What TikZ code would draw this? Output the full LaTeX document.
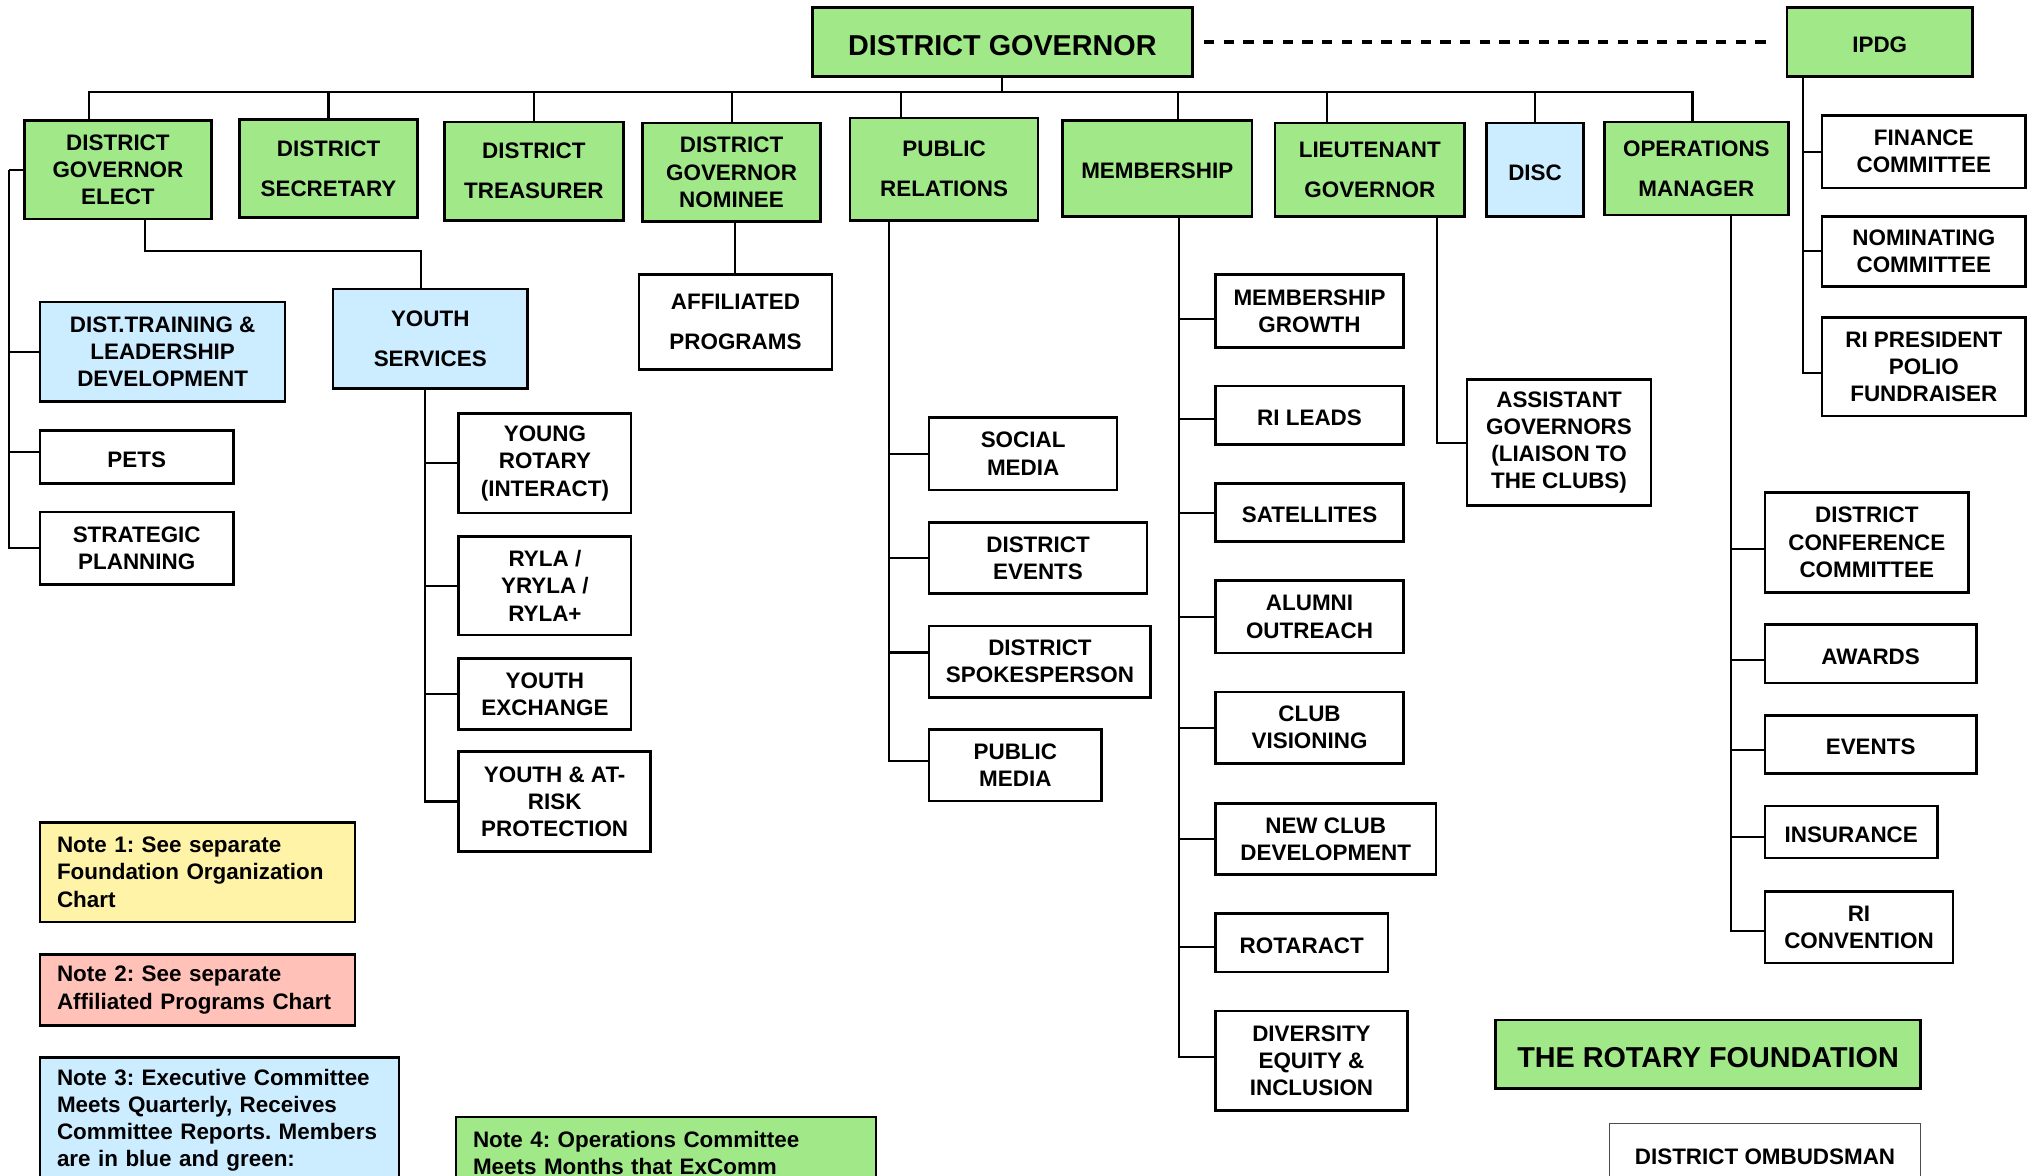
\documentclass[tikz,border=0pt]{standalone}
\usepackage{fontspec}
\setmainfont{Liberation Sans}
\usepackage{tikz}
\frenchspacing

\definecolor{orggreen}{RGB}{160,232,136}
\definecolor{orgblue}{RGB}{204,236,255}
\definecolor{noteyellow}{RGB}{255,243,168}
\definecolor{notepink}{RGB}{255,193,184}

\newcommand{\orgfont}{\fontsize{17.3}{21}\selectfont\bfseries}
\newcommand{\headfont}{\fontsize{22.2}{26}\selectfont\bfseries}

\begin{document}
\begin{tikzpicture}[x=1pt, y=-1pt,
  orgbox/.style={shape=rectangle, draw=black, line width=2pt, fill=white, inner sep=0pt, align=center, font=\orgfont, execute at begin node={\rule{0pt}{16pt}}},
  greenbox/.style={orgbox, fill=orggreen},
  bluebox/.style={orgbox, fill=orgblue},
  headbox/.style={greenbox, font=\headfont, execute at begin node={\rule{0pt}{21pt}}},
  notebox/.style={shape=rectangle, draw=black, line width=2pt, inner sep=0pt, align=left, inner xsep=13pt, font=\orgfont},
  sz/.style 2 args={minimum width=#1pt, minimum height=#2pt},
  link/.style={draw=black, line width=1.6pt},
  dotlink/.style={draw=black, line width=3pt, dash pattern=on 8pt off 7.2pt}]
\useasboundingbox (0,0) rectangle (1568,907);

% top row
\node[headbox, sz={293}{53}](dg) at (773.5,32.5) {DISTRICT GOVERNOR};
\node[greenbox, sz={143}{53}](ipdg) at (1450.5,32.5) {IPDG};
\node[greenbox, sz={144}{76}](dge) at (91,131) {DISTRICT\\GOVERNOR\\ELECT};
\node[greenbox, sz={137}{76}](ds) at (253.5,130) {DISTRICT\\[10pt]SECRETARY};
\node[greenbox, sz={138}{76}](dt) at (412,132) {DISTRICT\\[10pt]TREASURER};
\node[greenbox, sz={137}{76}](dgn) at (564.5,133) {DISTRICT\\GOVERNOR\\NOMINEE};
\node[greenbox, sz={145}{79}](pr) at (728.5,130.5) {PUBLIC\\[10pt]RELATIONS};
\node[greenbox, sz={146}{74}](mem) at (893,130) {MEMBERSHIP};
\node[greenbox, sz={146}{72}](lg) at (1057,131) {LIEUTENANT\\[10pt]GOVERNOR};
\node[bluebox, sz={75}{72}](disc) at (1184.5,131) {DISC};
\node[greenbox, sz={142}{72}](om) at (1309,130) {OPERATIONS\\[10pt]MANAGER};

% ipdg
\node[orgbox, sz={157}{56}](fin) at (1484.5,117) {FINANCE\\COMMITTEE};
\node[orgbox, sz={157}{54}](nom) at (1484.5,194) {NOMINATING\\COMMITTEE};
\node[orgbox, sz={157}{76}](rip) at (1484.5,283) {RI PRESIDENT\\POLIO\\FUNDRAISER};

% governor elect
\node[bluebox, sz={189}{77}](train) at (125.5,271.5) {DIST.TRAINING \&\\LEADERSHIP\\DEVELOPMENT};
\node[orgbox, sz={149}{41}](pets) at (105.5,352.5) {PETS};
\node[orgbox, sz={149}{56}](strat) at (105.5,423) {STRATEGIC\\PLANNING};
\node[bluebox, sz={150}{77}](ys) at (332,261.5) {YOUTH\\[10pt]SERVICES};
\node[orgbox, sz={133}{77}](yr) at (420.5,357.5) {YOUNG\\ROTARY\\(INTERACT)};
\node[orgbox, sz={133}{76}](ryla) at (420.5,452) {RYLA /\\YRYLA /\\RYLA+};
\node[orgbox, sz={133}{55}](yex) at (420.5,535.5) {YOUTH\\EXCHANGE};
\node[orgbox, sz={148}{77}](yar) at (428,618.5) {YOUTH \& AT-\\RISK\\PROTECTION};

\node[orgbox, sz={149}{73}](ap) at (567.5,248.5) {AFFILIATED\\[10pt]PROGRAMS};

% public relations
\node[orgbox, sz={145}{56}](sm) at (789.5,350) {SOCIAL\\MEDIA};
\node[orgbox, sz={168}{55}](de) at (801,430.5) {DISTRICT\\EVENTS};
\node[orgbox, sz={171}{55}](dsp) at (802.5,510.5) {DISTRICT\\SPOKESPERSON};
\node[orgbox, sz={133}{55}](pm) at (783.5,590.5) {PUBLIC\\MEDIA};

% membership
\node[orgbox, sz={145}{56}](mg) at (1010.5,240) {MEMBERSHIP\\GROWTH};
\node[orgbox, sz={145}{45}](ril) at (1010.5,320.5) {RI LEADS};
\node[orgbox, sz={145}{45}](sat) at (1010.5,395.5) {SATELLITES};
\node[orgbox, sz={145}{56}](alu) at (1010.5,476) {ALUMNI\\OUTREACH};
\node[orgbox, sz={145}{55}](cv) at (1010.5,561.5) {CLUB\\VISIONING};
\node[orgbox, sz={170}{55}](ncd) at (1023,647.5) {NEW CLUB\\DEVELOPMENT};
\node[orgbox, sz={133}{45}](rot) at (1004.5,727.5) {ROTARACT};
\node[orgbox, sz={148}{77}](dei) at (1012,818.5) {DIVERSITY\\EQUITY \&\\INCLUSION};

\node[orgbox, sz={142}{97}](ag) at (1203,341.5) {ASSISTANT\\GOVERNORS\\(LIAISON TO\\THE CLUBS)};

% operations
\node[orgbox, sz={157}{77}](dcc) at (1440.5,418.5) {DISTRICT\\CONFERENCE\\COMMITTEE};
\node[orgbox, sz={163}{45}](aw) at (1443.5,504.5) {AWARDS};
\node[orgbox, sz={163}{45}](ev) at (1443.5,574.5) {EVENTS};
\node[orgbox, sz={133}{40}](ins) at (1428.5,642) {INSURANCE};
\node[orgbox, sz={145}{55}](ric) at (1434.5,715.5) {RI\\CONVENTION};

\node[headbox, sz={328}{53}](trf) at (1318,813.5) {THE ROTARY FOUNDATION};
\node[orgbox, sz={240}{48}, draw=black!70, line width=1.4pt](omb) at (1362,891) {DISTRICT OMBUDSMAN};

% notes
\node[notebox, fill=noteyellow, text width=217pt, minimum height=77pt](note1) at (152.5,673) {Note 1: See separate\\Foundation Organization\\Chart};
\node[notebox, fill=notepink, text width=217pt, minimum height=55pt](note2) at (152.5,764) {Note 2: See separate\\Affiliated Programs Chart};
\node[notebox, fill=orgblue, text width=251pt, minimum height=97pt](note3) at (169.5,864.5) {Note 3: Executive Committee\\Meets Quarterly, Receives\\Committee Reports. Members\\are in blue and green:};
\node[notebox, fill=orggreen, text width=298pt, minimum height=55pt](note4) at (514,889.5) {Note 4: Operations Committee\\Meets Months that ExComm};

% connectors
\coordinate (bus) at (773.5,71);
\draw[link] (dg.south) -- (bus);
\draw[link] ([xshift=-22pt]dge.north) |- (bus);
\draw[link] (ds.north) |- (bus);
\draw[link] (dt.north) |- (bus);
\draw[link] (dgn.north) |- (bus);
\draw[link] ([xshift=-33pt]pr.north) |- (bus);
\draw[link] ([xshift=16pt]mem.north) |- (bus);
\draw[link] ([xshift=-33pt]lg.north) |- (bus);
\draw[link] (disc.north) |- (bus);
\draw[link] ([xshift=-3pt]om.north) |- (bus);
\draw[dotlink] ([xshift=8pt]dg.east) -- ([xshift=-13pt]ipdg.west);

\coordinate (iprail) at ([xshift=13pt]ipdg.south west);
\draw[link] (fin.west) -| (iprail);
\draw[link] (nom.west) -| (iprail);
\draw[link] ([yshift=-5pt]rip.west) -| (iprail);

\coordinate (lrail) at (7,131);
\draw[link] (dge.west) -- (lrail);
\draw[link] (train.west) -| (lrail);
\draw[link] ([yshift=4pt]pets.west) -| (lrail);
\draw[link] (strat.west) -| (lrail);

\coordinate (ysbend) at (325,194);
\draw[link] ([xshift=21pt]dge.south) |- (ysbend) -- ([xshift=-7pt]ys.north);
\coordinate (ysrail) at ([xshift=-4pt]ys.south);
\draw[link] (yr.west) -| (ysrail);
\draw[link] (ryla.west) -| (ysrail);
\draw[link] (yex.west) -| (ysrail);
\draw[link] (yar.west) -| (ysrail);

\draw[link] (ap.north) -- (ap.north |- dgn.south);

\coordinate (prrail) at ([xshift=31pt]pr.south west);
\draw[link] (sm.west) -| (prrail);
\draw[link] (de.west) -| (prrail);
\draw[link] ([yshift=7pt]dsp.west) -| (prrail);
\draw[link] ([yshift=3pt]pm.west) -| (prrail);

\coordinate (memrail) at ([xshift=17pt]mem.south);
\draw[link] ([yshift=-6pt]mg.west) -| (memrail);
\draw[link] ([yshift=-3pt]ril.west) -| (memrail);
\draw[link] (sat.west) -| (memrail);
\draw[link] (alu.west) -| (memrail);
\draw[link] (cv.west) -| (memrail);
\draw[link] (ncd.west) -| (memrail);
\draw[link] ([yshift=-3pt]rot.west) -| (memrail);
\draw[link] ([yshift=3pt]dei.west) -| (memrail);

\draw[link] (ag.west) -| ([xshift=-22pt]lg.south east);

\coordinate (omrail) at ([xshift=-45pt]om.south east);
\draw[link] ([yshift=-5pt]dcc.west) -| (omrail);
\draw[link] ([yshift=-5pt]aw.west) -| (omrail);
\draw[link] ([yshift=-4pt]ev.west) -| (omrail);
\draw[link] ([yshift=-4pt]ins.west) -| (omrail);
\draw[link] ([yshift=-3pt]ric.west) -| (omrail);
\end{tikzpicture}
\end{document}
